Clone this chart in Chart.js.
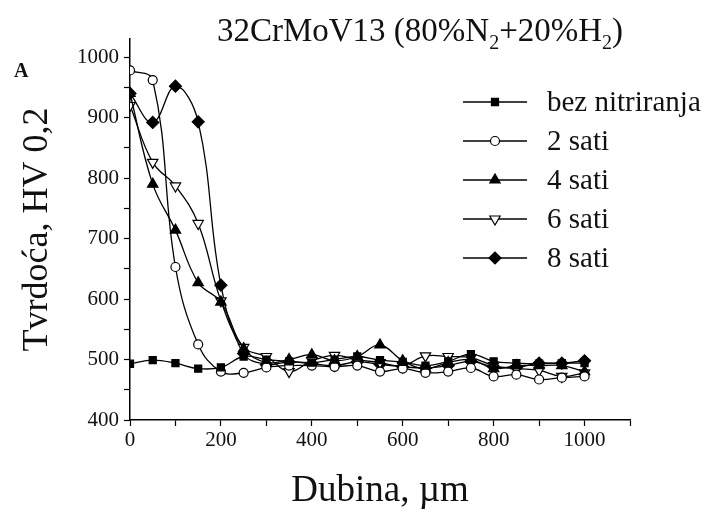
<!DOCTYPE html>
<html>
<head>
<meta charset="utf-8">
<script src="https://cdn.jsdelivr.net/npm/chart.js@4/dist/chart.umd.min.js"></script>
<style>
  html, body { margin: 0; padding: 0; background: #fff; }
  #wrap { width: 706px; height: 513px; }
</style>
</head>
<body>
<div id="wrap"><canvas id="c" width="706" height="513"></canvas></div>
<script>
// dubina (µm) i tvrdoća HV 0,2 po seriji
const dubina = [0, 50, 100, 150, 200, 250, 300, 350, 400, 450, 500, 550, 600, 650, 700, 750, 800, 850, 900, 950, 1000];

const bezNitriranja = [493, 499, 494, 485, 487, 505, 500, 497, 495, 500, 505, 499, 496, 490, 497, 509, 497, 494, 493, 494, 494];
const sati2 = [978, 962, 653, 525, 480, 478, 487, 490, 490, 488, 490, 480, 485, 478, 480, 486, 472, 475, 467, 470, 472];
const sati4 = [940, 790, 714, 627, 595, 518, 495, 500, 508, 498, 505, 524, 498, 485, 495, 500, 485, 490, 490, 490, 480];
const sati6 = [920, 826, 787, 725, 597, 520, 505, 480, 498, 507, 500, 495, 490, 506, 505, 503, 490, 485, 482, 472, 478];
const sati8 = [940, 892, 952, 893, 623, 510, 492, 496, 493, 490, 496, 492, 488, 486, 490, 497, 488, 487, 494, 494, 498];

const nazivi = ["bez nitriranja", "2 sati", "4 sati", "6 sati", "8 sati"];

// podioci na y osi (svakih 50, brojevi na stotinama)
const yPodioci = [400, 450, 500, 550, 600, 650, 700, 750, 800, 850, 900, 950, 1000];

const SERIF = "'Liberation Serif', 'Times New Roman', serif";

function tacke(vals) {
  return dubina.map((x, i) => ({ x, y: vals[i] }));
}

function serija(label, vals, style, filled, radius, rotation) {
  return {
    label,
    data: tacke(vals),
    borderColor: "#000",
    borderWidth: 1.3,
    pointStyle: style,
    pointRadius: radius,
    pointRotation: rotation || 0,
    pointBorderWidth: 1.2,
    pointBorderColor: "#000",
    pointBackgroundColor: filled ? "#000" : "#fff",
    tension: 0.4,
    fill: false,
  };
}

/* legenda: linija + marker, desno gore u grafiku */
const legendaPlugin = {
  id: "legenda",
  afterDraw(chart) {
    const ctx = chart.ctx;
    const ca = chart.chartArea;
    const x0 = ca.left + 333, x1 = ca.left + 397, xm = (x0 + x1) / 2;
    const y0 = 102, dy = 39;
    ctx.save();
    chart.data.datasets.forEach((ds, i) => {
      const y = y0 + i * dy;
      ctx.strokeStyle = "#000";
      ctx.lineWidth = 1.3;
      ctx.beginPath();
      ctx.moveTo(x0, y);
      ctx.lineTo(x1, y);
      ctx.stroke();
      ctx.fillStyle = ds.pointBackgroundColor;
      ctx.strokeStyle = "#000";
      ctx.lineWidth = 1.2;
      Chart.helpers.drawPoint(ctx, {
        pointStyle: ds.pointStyle,
        radius: ds.pointRadius,
        rotation: ds.pointRotation,
        borderWidth: 1.2,
      }, xm, y);
      ctx.fillStyle = "#111";
      ctx.font = "29px " + SERIF;
      ctx.textAlign = "left";
      ctx.textBaseline = "middle";
      ctx.fillText(ds.label, x1 + 20, y + 1);
    });
    ctx.restore();
  }
};

/* naslov sa indeksima i oznaka panela */
const naslovPlugin = {
  id: "naslov",
  afterDraw(chart) {
    const ctx = chart.ctx;
    ctx.save();
    ctx.fillStyle = "#111";
    ctx.textBaseline = "alphabetic";
    const big = "33px " + SERIF, small = "20px " + SERIF;
    const dijelovi = [
      ["32CrMoV13 (80%N", big, 0],
      ["2", small, 8],
      ["+20%H", big, 0],
      ["2", small, 8],
      [")", big, 0],
    ];
    let w = 0;
    dijelovi.forEach(([t, f]) => { ctx.font = f; w += ctx.measureText(t).width; });
    let x = 420 - w / 2;
    const y = 41;
    dijelovi.forEach(([t, f, dy]) => {
      ctx.font = f;
      ctx.fillText(t, x, y + dy);
      x += ctx.measureText(t).width;
    });
    ctx.font = "bold 20px " + SERIF;
    ctx.fillText("A", 14, 77);
    ctx.restore();
  }
};

new Chart(document.getElementById("c"), {
  type: "line",
  data: {
    datasets: [
      serija(nazivi[0], bezNitriranja, "rect", true, 5),
      serija(nazivi[1], sati2, "circle", false, 4.5),
      serija(nazivi[2], sati4, "triangle", true, 6),
      serija(nazivi[3], sati6, "triangle", false, 6, 180),
      serija(nazivi[4], sati8, "rectRot", true, 6),
    ]
  },
  options: {
    responsive: false,
    animation: false,
    layout: { padding: { top: 39, right: 76, bottom: 0, left: 0 } },
    plugins: {
      legend: { display: false },
      tooltip: { enabled: false },
    },
    scales: {
      x: {
        type: "linear",
        min: 0,
        max: 1100,
        afterFit: s => { s.height = 93; },
        border: { color: "#000", width: 1.5 },
        grid: { drawOnChartArea: false, drawTicks: true, tickLength: 6, color: "#000", tickWidth: 1.2 },
        ticks: {
          stepSize: 100,
          autoSkip: false,
          maxRotation: 0,
          padding: 2,
          color: "#111",
          font: { family: SERIF, size: 21 },
          callback: v => (v % 200 === 0 && v <= 1000 ? v : ""),
        },
        title: {
          display: true,
          text: "Dubina, µm",
          color: "#111",
          font: { family: SERIF, size: 37 },
          padding: { top: 0, bottom: 0 },
        },
      },
      y: {
        min: 400,
        max: 1030,
        afterFit: s => { s.width = 130; },
        afterBuildTicks: s => { s.ticks = yPodioci.map(v => ({ value: v })); },
        border: { color: "#000", width: 1.5 },
        grid: { drawOnChartArea: false, drawTicks: true, tickLength: 6, color: "#000", tickWidth: 1.2 },
        ticks: {
          autoSkip: false,
          padding: 5,
          color: "#111",
          font: { family: SERIF, size: 21 },
          callback: v => (v % 100 === 0 ? v : ""),
        },
        title: {
          display: true,
          text: "Tvrdoća, HV 0,2",
          color: "#111",
          font: { family: SERIF, size: 36 },
          padding: { top: 16, bottom: 0 },
        },
      },
    },
  },
  plugins: [legendaPlugin, naslovPlugin],
});
</script>
</body>
</html>
